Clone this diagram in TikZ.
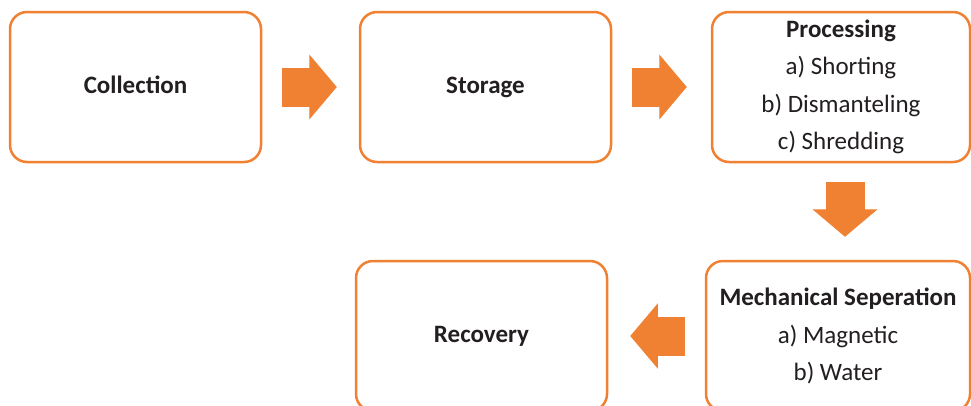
\documentclass[tikz,border=0pt]{standalone}
\usepackage{fontspec}
\setmainfont{Carlito}
\usepackage{xcolor}
\usepackage{tikz}
\usetikzlibrary{arrows.meta, calc}
\definecolor{flow}{HTML}{F08132}
\definecolor{ink}{HTML}{231F20}
\tikzset{
  stage box/.style={
    draw=flow,
    line width=2.5pt,
    fill=white,
    rounded corners=17pt,
    minimum width=251pt,
    minimum height=150pt,
    align=center,
    text=ink,
    font=\fontsize{25}{37.5}\selectfont,
    inner sep=0pt
  },
  block arrow/.style={
    color=flow,
    line width=39pt,
    -{Triangle[length=27.5pt, width=65pt, line width=1pt]}
  }
}
\begin{document}
\begin{tikzpicture}[x=1pt, y=-1pt]
  \useasboundingbox (0,0) rectangle (971,405);
  \clip (0,0) rectangle (971,405);

  % Stages
  \node[stage box] (coll) at (135.5, 87) {\textbf{Collection\vphantom{g}}};
  \node[stage box] (stor) at (485.5, 87) {\textbf{Storage}};
  \node[stage box, minimum width=258pt] (proc) at (841, 87)
    {\textbf{Processing}\\a) Shorting\\b) Dismanteling\\c) Shredding};
  \node[stage box, minimum width=264pt] (mech) at (838, 336)
    {\textbf{Mechanical Seperation}\\a) Magnetic\\b) Water};
  \node[stage box] (rec) at (481.5, 336) {\textbf{Recovery}};

  % Flow arrows
  \draw[block arrow, shorten <=20pt, shorten >=22pt] (coll.east) -- (stor.west);
  \draw[block arrow, shorten <=20pt, shorten >=24pt] (stor.east) -- (proc.west);
  \draw[block arrow, shorten <=19pt, shorten >=23pt]
    ([xshift=4pt]proc.south) -- ([xshift=4pt]proc.south |- mech.north);
  \draw[block arrow, shorten <=20pt, shorten >=22pt] (mech.west) -- (rec.east);
\end{tikzpicture}
\end{document}
